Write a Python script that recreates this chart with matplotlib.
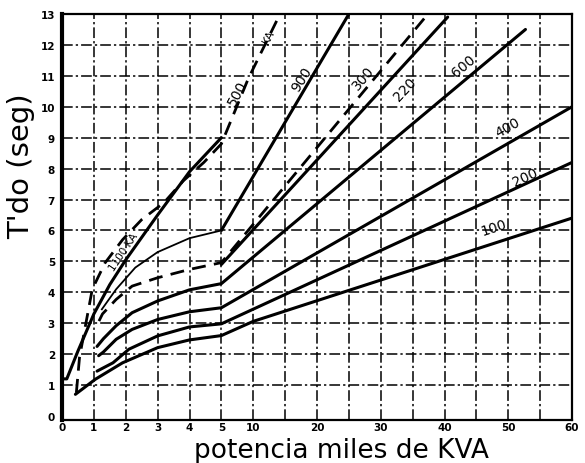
import numpy as np
import matplotlib
matplotlib.use("Agg")
from matplotlib import pyplot as plt

# curves (x in miles de KVA, y in seg)
solid1100_x = [0, 0.15, 0.5, 1, 1.5, 2, 3, 4, 5]
solid1100_y = [1.2, 1.2, 2.1, 3.3, 4.25, 5.05, 6.5, 7.9, 9.0]

dash500_x = [0.45, 0.55, 0.75, 0.95, 1.35, 1.9, 2.5, 3.2, 3.8, 4.45, 5, 9.2, 14.2]
dash500_y = [0.75, 1.9, 3.0, 4.1, 4.95, 5.7, 6.35, 6.9, 7.6, 8.2, 8.8, 10.9, 13.0]

c900_left_x = [1.25, 1.7, 2.3, 3, 4, 5]
c900_left_y = [3.45, 4.1, 4.8, 5.3, 5.75, 6.0]
c900_x = [5, 25]
c900_y = [6.0, 13.0]

c300_x = [1.16, 1.27, 1.7, 2.2, 3, 4, 5, 37]
c300_y = [3.07, 3.3, 3.77, 4.2, 4.47, 4.74, 4.96, 12.9]

c220_x = [5, 40.5]
c220_y = [4.9, 12.9]

c600_x = [1.1, 1.3, 1.7, 2.2, 3, 4, 5, 52.7]
c600_y = [2.25, 2.5, 2.92, 3.34, 3.72, 4.08, 4.28, 12.5]

c400_x = [1.15, 1.3, 1.7, 2.2, 3, 4, 5, 60]
c400_y = [1.95, 2.07, 2.48, 2.8, 3.12, 3.37, 3.5, 10.0]

c200_x = [1.1, 1.6, 2.1, 3, 4, 5, 60]
c200_y = [1.45, 1.72, 2.16, 2.59, 2.88, 2.98, 8.2]

c100_x = [0.42, 1.05, 1.9, 3, 4, 5, 10, 60]
c100_y = [0.7, 1.19, 1.72, 2.21, 2.46, 2.6, 3.06, 6.4]

x_ticks = [0, 1, 2, 3, 4, 5, 10, 20, 30, 40, 50, 60]
x_grid = [1, 2, 3, 4, 5, 10, 15, 20, 25, 30, 35, 40, 45, 50, 55]
y_ticks = list(range(0, 14))


# scale is linear 0-5, then 5 units per grid cell up to 60
def fwd(x):
    x = np.asarray(x, dtype=float)
    return np.where(x <= 5, x, 5 + (x - 5) / 5.0)


def inv(u):
    u = np.asarray(u, dtype=float)
    return np.where(u <= 5, u, 5 + (u - 5) * 5.0)


fig = plt.figure(figsize=(5.85, 4.64), dpi=100)
ax = fig.add_axes([62 / 585, 1 - 421 / 464, 510 / 585, 406 / 464])
ax.set_xscale("function", functions=(fwd, inv))
ax.set_xlim(0, 60)
ax.set_ylim(-0.13, 13)

gridstyle = dict(color="black", lw=1.1, linestyle=(0, (7, 2, 1.5, 2)), zorder=1)
for xv in x_grid:
    ax.axvline(xv, **gridstyle)
for yv in y_ticks[1:-1]:
    ax.axhline(yv, **gridstyle)

heavy = dict(color="black", lw=2.2, solid_capstyle="round", zorder=3)
dashed = dict(color="black", lw=2.0, linestyle=(0, (5, 3)), zorder=3)

ax.plot(solid1100_x, solid1100_y, **heavy)
ax.plot(dash500_x, dash500_y, **dashed)
ax.plot(c900_left_x, c900_left_y, color="black", lw=1.3, zorder=3)
ax.plot(c900_x, c900_y, **heavy)
ax.plot(c300_x, c300_y, **dashed)
ax.plot(c220_x, c220_y, **heavy)
ax.plot(c600_x, c600_y, **heavy)
ax.plot(c400_x, c400_y, **heavy)
ax.plot(c200_x, c200_y, **heavy)
ax.plot(c100_x, c100_y, **heavy)

# curve labels
lab = dict(fontsize=10, color="black", ha="center", va="center", zorder=4)
ax.text(1.93, 5.33, "1100 KA", rotation=56, fontsize=7.5, ha="center", va="center")
ax.text(7.6, 10.45, "500", rotation=62, **lab)
ax.text(12.4, 12.3, "KA", rotation=62, fontsize=8, ha="center", va="center")
ax.text(17.6, 10.9, "900", rotation=58, **lab)
ax.text(27.3, 10.95, "300", rotation=50, **lab)
ax.text(33.8, 10.6, "220", rotation=47, **lab)
ax.text(43.0, 11.35, "600", rotation=40, **lab)
ax.text(49.9, 9.35, "400", rotation=30, **lab)
ax.text(52.7, 7.75, "200", rotation=25, **lab)
ax.text(47.7, 6.1, "100", rotation=18, **lab)

ax.set_xticks(x_ticks)
ax.set_xticklabels([str(v) for v in x_ticks], fontsize=7.5, fontweight="bold")
ax.set_yticks(y_ticks)
ax.set_yticklabels([str(v) for v in y_ticks], fontsize=7.5, fontweight="bold")
ax.tick_params(axis="x", length=0, pad=1.5)
ax.tick_params(axis="y", length=0, pad=5)

for s in ["top", "right", "bottom"]:
    ax.spines[s].set_linewidth(1.6)
ax.spines["left"].set_linewidth(3)

ax.set_xlabel("potencia miles de KVA", fontsize=19, va="baseline")
ax.xaxis.set_label_coords(0.547, -37 / 406)
ax.set_ylabel("T'do (seg)", fontsize=21)
ax.yaxis.set_label_coords(-0.052, 0.628)

fig.savefig("out.png", dpi=100)
